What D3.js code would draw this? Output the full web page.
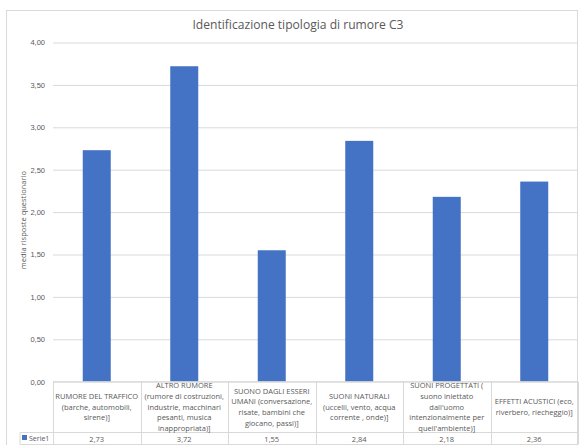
<!DOCTYPE html>
<html>
<head>
<meta charset="utf-8">
<script src="https://cdn.jsdelivr.net/npm/d3@7"></script>
<style>
  html, body { margin: 0; padding: 0; background: #fff; }
  svg { display: block; font-family: "Open Sans", "Noto Sans", sans-serif; }
</style>
</head>
<body>
<svg id="chart" width="580" height="445"></svg>
<script>
// Chart data
const title = "Identificazione tipologia di rumore C3";
const yLabel = "media risposte questionario";
const seriesName = "Serie1";
const categories = [
  ["RUMORE DEL TRAFFICO", "(barche, automobili,", "sirene)]"],
  ["ALTRO RUMORE", "(rumore di costruzioni,", "industrie, macchinari", "pesanti, musica", "inappropriata)]"],
  ["SUONO DAGLI ESSERI", "UMANI (conversazione,", "risate, bambini che", "giocano, passi)]"],
  ["SUONI NATURALI", "(uccelli, vento, acqua", "corrente , onde)]"],
  ["SUONI PROGETTATI (", "suono iniettato", "dall'uomo", "intenzionalmente per", "quell'ambiente)]"],
  ["EFFETTI ACUSTICI (eco,", "riverbero, riecheggio)]"]
];
const values = [2.73, 3.72, 1.55, 2.84, 2.18, 2.36];
const yTicks = [0, 0.5, 1, 1.5, 2, 2.5, 3, 3.5, 4];

const fmt = v => d3.format(".2f")(v).replace(".", ",");

const svg = d3.select("#chart");
const gridColor = "#d9d9d9";
const textColor = "#595959";

const plot = { left: 53, right: 578, top: 42.5, bottom: 381.7 };
const table = { catBottom: 432.5, rowBottom: 444.5, legendLeft: 20 };

// Chart frame
svg.append("rect")
  .attr("x", 6.5).attr("y", 10.5)
  .attr("width", 571).attr("height", 440)
  .attr("fill", "none").attr("stroke", gridColor);

const x = d3.scaleBand()
  .domain(d3.range(categories.length))
  .range([plot.left, plot.right])
  .paddingInner(0.68).paddingOuter(0.34);

const xCol = d3.scaleBand()
  .domain(d3.range(categories.length))
  .range([plot.left, plot.right]);

const y = d3.scaleLinear().domain([0, 4]).range([plot.bottom, plot.top]);

// Gridlines and tick labels
const yAxis = d3.axisLeft(y).tickValues(yTicks).tickFormat(fmt)
  .tickSize(-(plot.right - plot.left)).tickPadding(8);
const gy = svg.append("g").attr("transform", `translate(${plot.left},0)`).call(yAxis);
gy.select(".domain").remove();
gy.selectAll(".tick line").attr("stroke", gridColor);
gy.selectAll(".tick text").attr("fill", textColor).attr("font-size", 7.5);

// Bars
svg.append("g").selectAll("rect").data(values).join("rect")
  .attr("x", (d, i) => x(i))
  .attr("y", d => y(d))
  .attr("width", x.bandwidth())
  .attr("height", d => y(0) - y(d))
  .attr("fill", "#4472c4");

// Title
svg.append("text")
  .attr("x", 298).attr("y", 29)
  .attr("text-anchor", "middle")
  .attr("fill", textColor)
  .attr("font-size", 12.1)
  .text(title);

// Y axis title
svg.append("text")
  .attr("transform", `translate(26,${(plot.top + plot.bottom) / 2 + 8}) rotate(-90)`)
  .attr("text-anchor", "middle")
  .attr("fill", textColor)
  .attr("font-size", 7.5)
  .text(yLabel);

// Data table grid
const tg = svg.append("g").attr("stroke", gridColor).attr("fill", "none");
tg.append("line").attr("x1", plot.left).attr("x2", plot.right)
  .attr("y1", plot.bottom).attr("y2", plot.bottom);
tg.append("line").attr("x1", table.legendLeft).attr("x2", plot.right)
  .attr("y1", table.catBottom).attr("y2", table.catBottom);
tg.append("line").attr("x1", table.legendLeft).attr("x2", plot.right)
  .attr("y1", table.rowBottom).attr("y2", table.rowBottom);
tg.append("line").attr("x1", table.legendLeft).attr("x2", table.legendLeft)
  .attr("y1", table.catBottom).attr("y2", table.rowBottom);
d3.range(categories.length + 1).forEach(i => {
  const xx = Math.round(plot.left + i * xCol.bandwidth()) + 0.5;
  tg.append("line").attr("x1", xx).attr("x2", xx)
    .attr("y1", plot.bottom).attr("y2", table.rowBottom);
});

// Category labels
const lineH = 10.6;
const catMid = (plot.bottom + table.catBottom) / 2;
categories.forEach((lines, i) => {
  const cx = xCol(i) + xCol.bandwidth() / 2;
  const t = svg.append("text")
    .attr("text-anchor", "middle")
    .attr("fill", textColor)
    .attr("font-size", 7.5);
  const y0 = catMid - (lines.length - 1) * lineH / 2 + 2.5;
  lines.forEach((ln, j) => {
    t.append("tspan").attr("x", cx).attr("y", y0 + j * lineH).text(ln);
  });
});

// Series row
svg.append("rect").attr("x", 22).attr("y", 435).attr("width", 5).attr("height", 5).attr("fill", "#4472c4");
svg.append("text").attr("x", 29).attr("y", 441).attr("fill", textColor).attr("font-size", 7).text(seriesName);
svg.append("g").selectAll("text").data(values).join("text")
  .attr("x", (d, i) => xCol(i) + xCol.bandwidth() / 2)
  .attr("y", 441.5)
  .attr("text-anchor", "middle")
  .attr("fill", textColor)
  .attr("font-size", 7.5)
  .text(d => fmt(d));
</script>
</body>
</html>
